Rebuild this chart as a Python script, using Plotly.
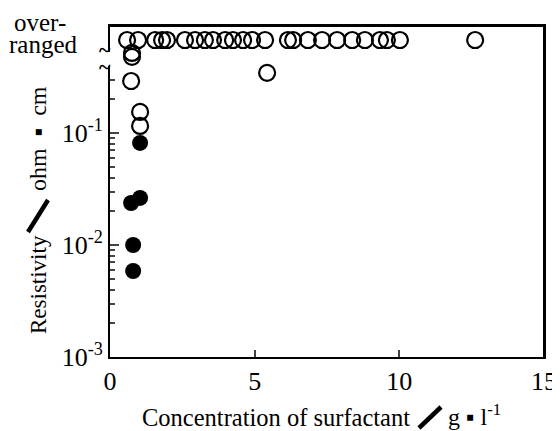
import plotly.graph_objects as go

# Plot position used for the "over-ranged" category (above the axis break)
OVER = 0.676

# Open circles: over-ranged measurements (x in g/l)
over_x = [0.59, 0.97, 1.56, 1.80, 1.97, 2.59, 2.94, 3.28, 3.56, 3.98, 4.25, 4.60,
          4.91, 5.36, 6.15, 6.33, 6.84, 7.33, 7.85, 8.37, 8.81, 9.33, 9.57, 10.02, 12.62]
over_y = [OVER] * len(over_x)

# Open circles: measured values
open_x = [0.76, 0.76, 0.73, 5.43, 1.04, 1.04]
open_y = [0.518, 0.478, 0.291, 0.344, 0.154, 0.1155]

# Filled circles
fill_x = [1.04, 0.73, 1.04, 0.80, 0.80]
fill_y = [0.0815, 0.0237, 0.0263, 0.0100, 0.00586]

y_major = [1e-3, 1e-2, 1e-1]
y_major_text = ["10<sup>-3</sup>", "10<sup>-2</sup>", "10<sup>-1</sup>"]
y_minor = [m * d for d in (1e-3, 1e-2) for m in range(2, 10)] + [0.2, 0.3]
x_ticks = [0, 5, 10, 15]

FONT = "Liberation Serif"
OFF = 8                      # page body margin
W, H = 560 - OFF, 431 - OFF
PL, PR, PT, PB = 110, 544, 26, 357   # plot area in window pixels
YRANGE = [-3, -0.045]

fig = go.Figure()
fig.add_trace(go.Scatter(
    x=over_x + open_x, y=over_y + open_y, mode="markers",
    marker=dict(symbol="circle-open", size=16, color="black", line=dict(width=2.2, color="black")),
    showlegend=False))
fig.add_trace(go.Scatter(
    x=fill_x, y=fill_y, mode="markers",
    marker=dict(symbol="circle", size=16, color="black", line=dict(width=0)),
    showlegend=False))

fig.update_layout(
    width=W, height=H,
    margin=dict(l=PL - OFF, r=560 - PR, t=PT - OFF, b=431 - PB, pad=0),
    paper_bgcolor="white", plot_bgcolor="white",
    font=dict(family=FONT, color="black", size=24),
    xaxis=dict(range=[0, 15], tickvals=x_ticks, ticks="inside", ticklen=7, tickwidth=2,
               showline=True, linewidth=2, linecolor="black", mirror=True, automargin=False,
               showgrid=False, zeroline=False, tickfont=dict(size=26, family=FONT)),
    yaxis=dict(type="log", range=YRANGE, tickvals=y_major, ticktext=y_major_text,
               ticks="inside", ticklen=9, tickwidth=2, automargin=False,
               showline=True, linewidth=2, linecolor="black", mirror=True,
               showgrid=False, zeroline=False, tickfont=dict(size=26, family=FONT)),
    # overlay axis that only carries the minor log ticks
    yaxis2=dict(type="log", range=YRANGE, overlaying="y", side="left", anchor="x",
                tickvals=y_minor, ticks="inside", ticklen=5, tickwidth=1.5,
                showticklabels=False, showline=False, showgrid=False, zeroline=False,
                automargin=False),
)

def py2p(py):
    return (PB - py) / (PB - PT)

def px2p(px):
    return (px - PL) / (PR - PL)

def txt(text, x, y, size, xanchor="center", yanchor="middle", angle=0):
    fig.add_annotation(xref="paper", yref="paper", x=px2p(x), y=py2p(y), text=text,
                       showarrow=False, font=dict(size=size, family=FONT, color="black"),
                       xanchor=xanchor, yanchor=yanchor, textangle=angle)

def thick_line(x0, y0, x1, y1, w=4.5):
    fig.add_shape(type="line", xref="paper", yref="paper",
                  x0=px2p(x0), y0=py2p(y0), x1=px2p(x1), y1=py2p(y1),
                  line=dict(color="black", width=w), layer="above")

# Frame (top and right edges)
fig.add_shape(type="line", xref="paper", yref="paper", x0=0, x1=1, y0=1, y1=1,
              line=dict(color="black", width=2), layer="above")
fig.add_shape(type="line", xref="paper", yref="paper", x0=1, x1=1, y0=0, y1=1,
              line=dict(color="black", width=2), layer="above")

# Axis break on the left axis
fig.add_shape(type="rect", xref="paper", yref="paper",
              x0=px2p(100), x1=px2p(113), y0=py2p(66), y1=py2p(52),
              fillcolor="white", line=dict(width=0), layer="above")
for py in (50, 67):
    txt("<b>~</b>", 105, py, 22)

# "over-ranged" label
txt("over-", 40, 22, 25)
txt("ranged", 43, 45, 25)

# y-axis title (pieces)
txt("Resistivity", 38, 285, 23, angle=-90)
thick_line(28, 232, 48, 200)
txt("ohm \u00a0\u25aa\u00a0 cm", 38, 139, 24, angle=-90)

# x-axis title (pieces)
txt("Concentration of surfactant", 412, 417, 24.5, xanchor="right")
thick_line(419, 428, 441, 407)
txt("g \u25aa l<sup>-1</sup>", 446, 415, 24, xanchor="left")

# dummy invisible trace so the minor-tick axis is drawn
fig.add_trace(go.Scatter(x=[None], y=[None], yaxis="y2", showlegend=False, hoverinfo="skip"))

fig.write_html("out.html")
